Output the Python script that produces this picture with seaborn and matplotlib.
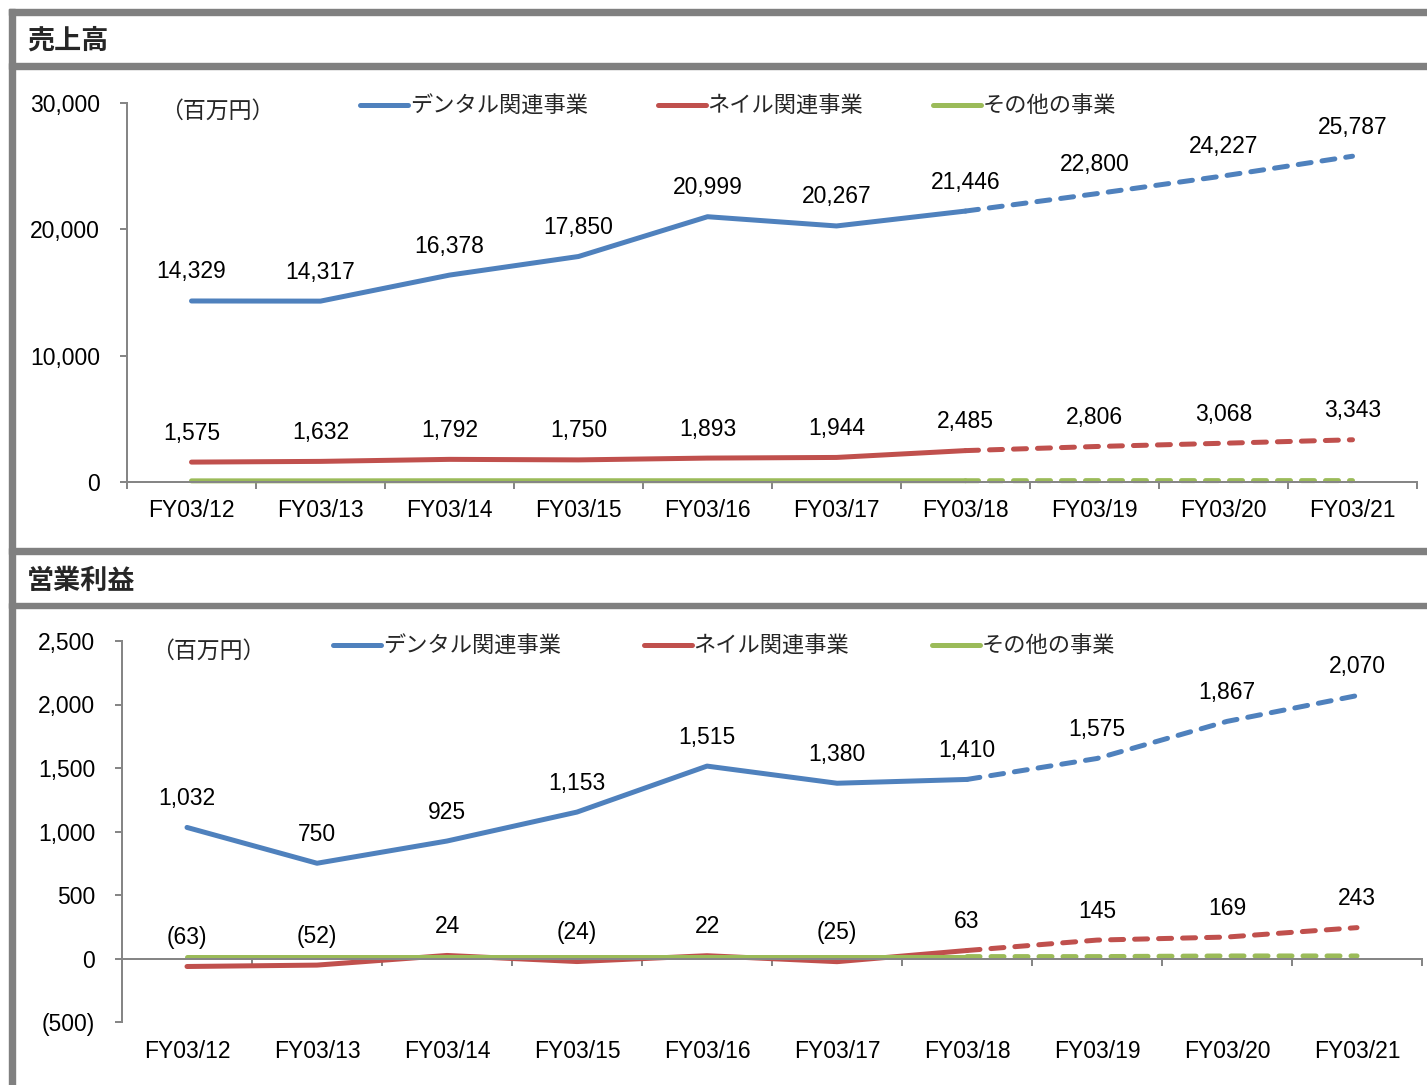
import numpy as np
import pandas as pd
import matplotlib
matplotlib.use("Agg")
import matplotlib.pyplot as plt
import seaborn as sns
from matplotlib.lines import Line2D
from matplotlib.patches import Rectangle
from matplotlib.ticker import FuncFormatter

# ---------------- data ----------------
categories = ["FY03/12", "FY03/13", "FY03/14", "FY03/15", "FY03/16",
              "FY03/17", "FY03/18", "FY03/19", "FY03/20", "FY03/21"]
series_names = ["デンタル関連事業", "ネイル関連事業", "その他の事業"]
series_colors = ["#4F81BD", "#C0504D", "#9BBB59"]

sales_dental = [14329, 14317, 16378, 17850, 20999, 20267, 21446, 22800, 24227, 25787]
sales_nail = [1575, 1632, 1792, 1750, 1893, 1944, 2485, 2806, 3068, 3343]
sales_other = [90, 90, 100, 100, 100, 100, 100, 110, 110, 110]

op_dental = [1032, 750, 925, 1153, 1515, 1380, 1410, 1575, 1867, 2070]
op_nail = [-63, -52, 24, -24, 22, -25, 63, 145, 169, 243]
op_other = [15, 15, 15, 15, 15, 15, 15, 15, 20, 20]

last_actual = "FY03/18"
panel_titles = ["売上高", "営業利益"]
unit_label = "（百万円）"
phase_names = ["実績", "予想"]

sales_yticks = [0, 10000, 20000, 30000]
op_yticks = [-500, 0, 500, 1000, 1500, 2000, 2500]

# ---------------- style ----------------
sns.set_theme(style="white")
plt.rcParams["font.family"] = ["Liberation Sans", "Noto Sans CJK JP", "DejaVu Sans"]
plt.rcParams["axes.unicode_minus"] = False

W, H = 1427, 1085
DPI = 100
GREY = "#808080"
AXGREY = "#868686"
FS = 16.5
LW_PX = 5.0


def fx(px):
    return px / W


def fy(py):
    return 1 - py / H


def px2pt(px):
    return px * 72 / DPI


fig = plt.figure(figsize=(W / DPI, H / DPI), dpi=DPI, facecolor="white")

# frame
def hbar(y0, y1, x0=9, x1=W):
    fig.patches.append(Rectangle((fx(x0), fy(y1)), fx(x1) - fx(x0), fy(y0) - fy(y1),
                                 transform=fig.transFigure, color=GREY, zorder=0))

hbar(9, 15)
hbar(63, 69)
hbar(548, 554)
hbar(603, 608)
fig.patches.append(Rectangle((fx(9), fy(H)), fx(15) - fx(9), fy(9) - fy(H),
                             transform=fig.transFigure, color=GREY, zorder=0))

fig.text(fx(27), fy(41), panel_titles[0], fontsize=19.5, fontweight="bold",
         ha="left", va="center", family=["Noto Sans CJK JP"])
fig.text(fx(27), fy(581), panel_titles[1], fontsize=19.5, fontweight="bold",
         ha="left", va="center", family=["Noto Sans CJK JP"])


def long_frame(values_list):
    n_act = categories.index(last_actual)
    rows = []
    for name, vals in zip(series_names, values_list):
        for i, (c, v) in enumerate(zip(categories, vals)):
            if i <= n_act:
                rows.append(dict(x=i, value=v, series=name, phase=phase_names[0]))
            if i >= n_act:
                rows.append(dict(x=i, value=v, series=name, phase=phase_names[1]))
    return pd.DataFrame(rows)


def fmt(v, pos=None):
    v = int(round(v))
    return f"({abs(v):,})" if v < 0 else f"{v:,}"


def draw_panel(rect, values_list, yticks, label_pad_pt, unit_xy, legend_xy, colspace_px):
    ax = fig.add_axes(rect)
    df = long_frame(values_list)
    palette = dict(zip(series_names, series_colors))
    sns.lineplot(data=df, x="x", y="value", hue="series", style="phase",
                 hue_order=series_names, style_order=phase_names,
                 palette=palette, dashes={phase_names[0]: "", phase_names[1]: (2.6, 2.2)},
                 linewidth=px2pt(LW_PX), sort=False, estimator=None, legend=False,
                 ax=ax, clip_on=False, dash_capstyle="round", solid_capstyle="round")

    # data labels (dental & nail)
    for vals in values_list[:2]:
        for i, v in enumerate(vals):
            ax.annotate(fmt(v), (i, v), xytext=(0, px2pt(29)), textcoords="offset points",
                        ha="center", va="center", fontsize=FS, color="black",
                        annotation_clip=False)

    ax.set_xlim(-0.5, len(categories) - 0.5)
    ax.set_ylim(yticks[0], yticks[-1])
    ax.set_xticks(range(len(categories)))
    ax.set_xticklabels(categories)
    ax.set_xticks(np.arange(-0.5, len(categories), 1.0), minor=True)
    ax.set_yticks(yticks)
    ax.yaxis.set_major_formatter(FuncFormatter(fmt))
    ax.set_xlabel("")
    ax.set_ylabel("")
    ax.grid(False)
    ax.set_facecolor("none")
    for s in ["top", "right"]:
        ax.spines[s].set_visible(False)
    for s in ["left", "bottom"]:
        ax.spines[s].set_color(AXGREY)
        ax.spines[s].set_linewidth(px2pt(2))
    if yticks[0] < 0:
        ax.spines["bottom"].set_position(("data", 0))
    ax.tick_params(axis="x", which="major", length=0, pad=label_pad_pt,
                   labelsize=FS, colors="black")
    ax.tick_params(axis="x", which="minor", bottom=True, length=px2pt(7),
                   width=px2pt(2), color=AXGREY, direction="out")
    ax.tick_params(axis="y", which="major", left=True, length=px2pt(7), width=px2pt(2),
                   color=AXGREY, labelcolor="black", pad=px2pt(20), labelsize=FS,
                   direction="out")

    fig.text(fx(unit_xy[0]), fy(unit_xy[1]), unit_label, fontsize=16.5,
             ha="left", va="center", family=["Noto Sans CJK JP"])
    handles = [Line2D([], [], color=c, lw=px2pt(LW_PX)) for c in series_colors]
    fs_px = 16 * DPI / 72
    fig.legend(handles, series_names, loc="center left",
               bbox_to_anchor=(fx(legend_xy[0]), fy(legend_xy[1])),
               bbox_transform=fig.transFigure, ncol=3, frameon=False,
               borderpad=0, borderaxespad=0, handlelength=48 / fs_px,
               handletextpad=0.08, columnspacing=colspace_px / fs_px,
               prop=dict(family=["Noto Sans CJK JP"], size=16))
    return ax


draw_panel([fx(127), fy(482), fx(1417) - fx(127), fy(103) - fy(482)],
           [sales_dental, sales_nail, sales_other], sales_yticks,
           px2pt(17), (160, 111), (360, 106), 70)

draw_panel([fx(122), fy(1022), fx(1422) - fx(122), fy(641) - fy(1022)],
           [op_dental, op_nail, op_other], op_yticks,
           px2pt(81), (151, 651), (333, 646), 83)

fig.savefig("out.png", dpi=DPI, facecolor="white")
